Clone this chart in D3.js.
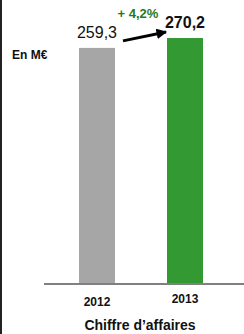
<!DOCTYPE html>
<html>
<head>
<meta charset="utf-8">
<script src="https://cdn.jsdelivr.net/npm/d3@7"></script>
<style>
  body { margin: 0; background: #fff; }
  svg { display: block; font-family: "Liberation Sans", Arial, sans-serif; }
</style>
</head>
<body>
<svg id="chart" width="244" height="334"></svg>
<script>
var years = ["2012", "2013"];
var values = [259.3, 270.2];
var valueLabels = ["259,3", "270,2"];
var growthLabel = "+ 4,2%";
var barColors = ["#a6a6a6", "#339933"];

var svg = d3.select("#chart");

// left frame line
svg.append("rect").attr("x", 0).attr("y", 0).attr("width", 2).attr("height", 334).attr("fill", "#222");

var x = d3.scaleBand()
  .domain(years)
  .range([53, 229])
  .paddingInner(0.591)
  .paddingOuter(0.2955);

var y = d3.scaleLinear()
  .domain([0, 300])
  .range([283, 11]);

svg.selectAll(".bar")
  .data(values)
  .enter()
  .append("rect")
  .attr("class", "bar")
  .attr("x", function (d, i) { return x(years[i]); })
  .attr("y", function (d) { return y(d); })
  .attr("width", x.bandwidth())
  .attr("height", function (d) { return y(0) - y(d); })
  .attr("fill", function (d, i) { return barColors[i]; });

// baseline
svg.append("line")
  .attr("x1", 44).attr("x2", 244)
  .attr("y1", y(0) + 1).attr("y2", y(0) + 1)
  .attr("stroke", "#808080").attr("stroke-width", 2);

// year labels
svg.selectAll(".year")
  .data(years)
  .enter()
  .append("text")
  .attr("class", "year")
  .attr("x", function (d) { return x(d) + x.bandwidth() / 2; })
  .attr("y", function (d, i) { return i == 0 ? 306 : 303; })
  .attr("text-anchor", "middle")
  .attr("font-size", 12)
  .attr("font-weight", "bold")
  .attr("fill", "#111")
  .text(function (d) { return d; });

// value labels
svg.selectAll(".val")
  .data(values)
  .enter()
  .append("text")
  .attr("class", "val")
  .attr("x", function (d, i) { return x(years[i]) + x.bandwidth() / 2; })
  .attr("y", function (d) { return y(d) - 10; })
  .attr("text-anchor", "middle")
  .attr("font-size", 16)
  .attr("font-weight", function (d, i) { return i == 1 ? "bold" : "normal"; })
  .attr("fill", "#111")
  .text(function (d, i) { return valueLabels[i]; });

// growth arrow
svg.append("defs").append("marker")
  .attr("id", "head")
  .attr("viewBox", "0 0 10 10")
  .attr("refX", 9).attr("refY", 5)
  .attr("markerWidth", 3.5).attr("markerHeight", 3.5)
  .attr("orient", "auto")
  .append("path").attr("d", "M0,0L10,5L0,10z").attr("fill", "#000");

var ax1 = x(years[0]) + x.bandwidth() + 8;
var ax2 = x(years[1]) - 1;
svg.append("line")
  .attr("x1", ax1).attr("y1", y(values[0]) - 7)
  .attr("x2", ax2).attr("y2", y(values[1]) - 6)
  .attr("stroke", "#000").attr("stroke-width", 3)
  .attr("marker-end", "url(#head)");

svg.append("text")
  .attr("x", 138).attr("y", 18)
  .attr("text-anchor", "middle")
  .attr("font-size", 13)
  .attr("font-weight", "bold")
  .attr("fill", "#1f7a1f")
  .text(growthLabel);

svg.append("text")
  .attr("x", 12).attr("y", 59)
  .attr("font-size", 12)
  .attr("font-weight", "bold")
  .attr("fill", "#111")
  .text("En M€");

svg.append("text")
  .attr("x", 140).attr("y", 330)
  .attr("text-anchor", "middle")
  .attr("font-size", 14)
  .attr("font-weight", "bold")
  .attr("fill", "#111")
  .text("Chiffre d’affaires");
</script>
</body>
</html>
